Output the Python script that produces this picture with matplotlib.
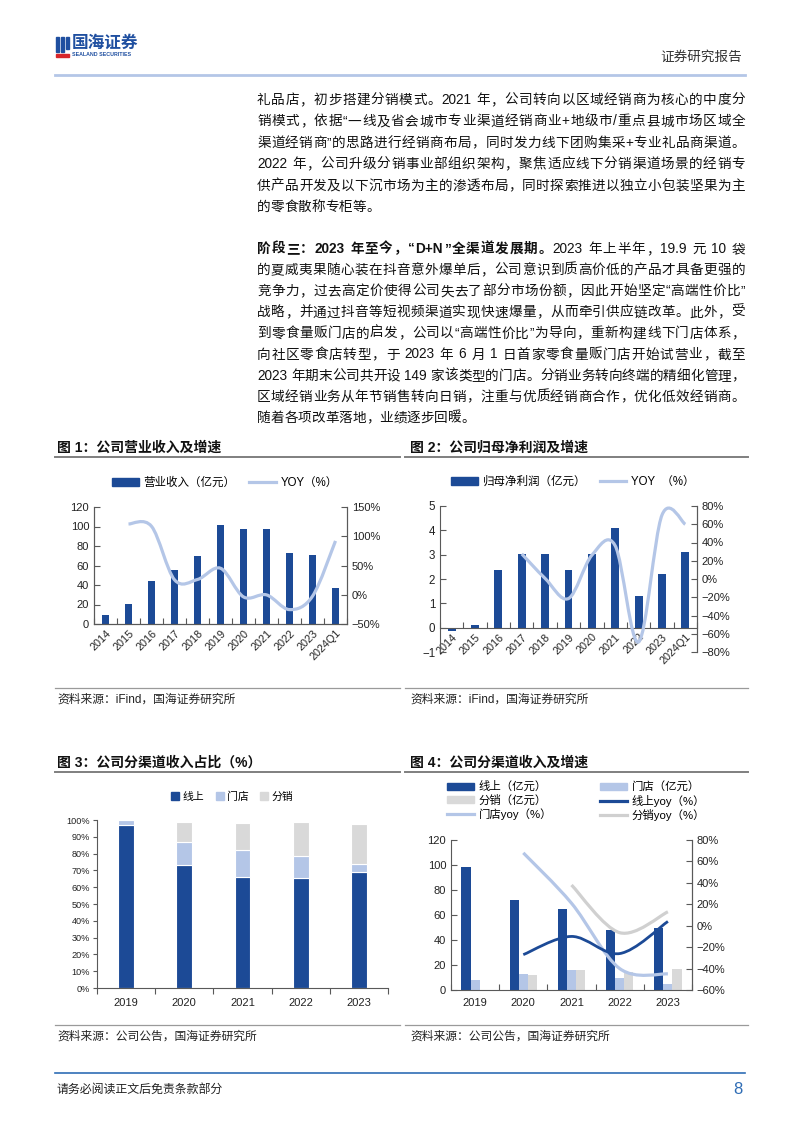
import re
import numpy as np
import matplotlib
matplotlib.use("Agg")
import matplotlib.pyplot as plt
from matplotlib.path import Path
from matplotlib.patches import PathPatch, Rectangle, Patch
from matplotlib.lines import Line2D

FONT = ['Liberation Sans', 'Noto Sans CJK SC']
plt.rcParams['font.family'] = FONT
plt.rcParams['axes.unicode_minus'] = True

W, H = 802, 1133

# ---- data ----
years1 = ['2014', '2015', '2016', '2017', '2018', '2019', '2020', '2021', '2022', '2023', '2024Q1']
revenue = [9.24, 20.43, 44.23, 55.54, 70.01, 101.73, 97.94, 97.70, 72.93, 71.15, 36.5]
rev_yoy = [121, 117, 25.6, 26.1, 45.3, -3.7, -0.2, -25.4, -2.5, 92]          # from 2015
profit = [-0.13, 0.09, 2.37, 3.02, 3.04, 2.39, 3.01, 4.11, 1.29, 2.19, 3.09]
profit_yoy = [27.5, 0.6, -21.4, 26.1, 36.4, -69, 70, 60]                       # from 2017

years2 = ['2019', '2020', '2021', '2022', '2023']
share_online = [96.8, 73.5, 66.0, 65.4, 69.3]
share_store = [3.0, 13.4, 16.2, 13.0, 4.8]
share_dist = [0.0, 12.2, 16.2, 20.3, 23.4]

rev_online = [98.6, 72.0, 64.5, 47.7, 49.3]
rev_store = [7.8, 13.1, 15.8, 9.5, 4.8]
rev_dist = [0.0, 12.0, 15.8, 14.8, 16.7]
online_yoy = [-27, -10, -26, 4]        # from 2020
store_yoy = [68, 21, -40, -45]         # from 2020
dist_yoy = [38, -6.5, 13]              # from 2021

DARK = '#1C4A96'
LIGHT = '#B4C6E7'
GREY = '#D9D9D9'
AX = '#595959'

fig = plt.figure(figsize=(W / 100, H / 100), dpi=100)
R = fig.canvas.get_renderer()


def fx(x):
    return x / W


def fy(y):
    return 1 - y / H


def box(x0, y0, x1, y1):
    return [x0 / W, 1 - y1 / H, (x1 - x0) / W, (y1 - y0) / H]


def hline(x0, x1, y, color, lw):
    fig.add_artist(Line2D([fx(x0), fx(x1)], [fy(y), fy(y)], transform=fig.transFigure,
                          color=color, lw=lw))


def txt(x, y, s, size, **kw):
    return fig.text(fx(x), fy(y), s, fontsize=size, va='center', family=FONT, **kw)


def put_line(x0, x1, y, parts, justify, size=9.8):
    items = []
    for s, bold in parts:
        for m in re.finditer(r'[A-Za-z0-9.+/%]+| |.', s):
            tok = m.group()
            if tok == ' ':
                items.append((None, size * 0.38))
                continue
            t = txt(x0, y, tok, size, fontweight='bold' if bold else 'normal', color='#111111')
            items.append((t, t.get_window_extent(R).width))
    total = sum(w for _, w in items)
    n = len(items)
    gap = (x1 - x0 - total) / (n - 1) if (justify and n > 1) else 0
    x = x0
    for t, w in items:
        if t is not None:
            t.set_x(fx(x))
        x += w + gap


def smooth(ax, xs, ys, **kw):
    xs = np.asarray(xs, float)
    ys = np.asarray(ys, float)
    n = len(xs)
    verts = [(xs[0], ys[0])]
    codes = [Path.MOVETO]
    for i in range(n - 1):
        p0 = np.array([xs[max(i - 1, 0)], ys[max(i - 1, 0)]])
        p1 = np.array([xs[i], ys[i]])
        p2 = np.array([xs[i + 1], ys[i + 1]])
        p3 = np.array([xs[min(i + 2, n - 1)], ys[min(i + 2, n - 1)]])
        c1 = p1 + (p2 - p0) / 6
        c2 = p2 - (p3 - p1) / 6
        verts += [tuple(c1), tuple(c2), tuple(p2)]
        codes += [Path.CURVE4] * 3
    ax.add_patch(PathPatch(Path(verts, codes), fill=False, capstyle='butt', **kw))


def pct(v):
    return ('\u2212' if v < 0 else '') + '%d%%' % abs(v)


def num(v):
    return ('\u2212' if v < 0 else '') + '%d' % abs(v)


# ---- header ----
fig.add_artist(Rectangle((fx(56), fy(52)), 3 / W, 15 / H, transform=fig.transFigure, color='#1F4FA0'))
fig.add_artist(Rectangle((fx(61), fy(52)), 3 / W, 15 / H, transform=fig.transFigure, color='#1F4FA0'))
fig.add_artist(Rectangle((fx(66), fy(49)), 3 / W, 12 / H, transform=fig.transFigure, color='#1F4FA0'))
fig.add_artist(Rectangle((fx(56), fy(57)), 13 / W, 3 / H, transform=fig.transFigure, color='#D7262B'))
txt(72, 43, '国海证券', 12, fontweight='bold', color='#1F4FA0')
txt(72, 55, 'SEALAND SECURITIES', 3.8, fontweight='bold', color='#1F4FA0')
txt(742, 57, '证券研究报告', 9.8, ha='right', color='#333333')
hline(55, 745, 75, '#B4C6E7', 2)

# ---- body text ----
X0, X1 = 257, 745
p1 = ['礼品店，初步搭建分销模式。2021 年，公司转向以区域经销商为核心的中度分',
      '销模式，依据“一线及省会城市专业渠道经销商业+地级市/重点县城市场区域全',
      '渠道经销商”的思路进行经销商布局，同时发力线下团购集采+专业礼品商渠道。',
      '2022 年，公司升级分销事业部组织架构，聚焦适应线下分销渠道场景的经销专',
      '供产品开发及以下沉市场为主的渗透布局，同时探索推进以独立小包装坚果为主',
      '的零食散称专柜等。']
for i, s in enumerate(p1):
    put_line(X0, X1, 100 + i * 21.4, [(s, False)], i < len(p1) - 1)

p2 = [[('阶段三：2023 年至今，“D+N”全渠道发展期。', True), ('2023 年上半年，19.9 元 10 袋', False)],
      [('的夏威夷果随心装在抖音意外爆单后，公司意识到质高价低的产品才具备更强的', False)],
      [('竞争力，过去高定价使得公司失去了部分市场份额，因此开始坚定“高端性价比”', False)],
      [('战略，并通过抖音等短视频渠道实现快速爆量，从而牵引供应链改革。此外，受', False)],
      [('到零食量贩门店的启发，公司以“高端性价比”为导向，重新构建线下门店体系，', False)],
      [('向社区零食店转型，于 2023 年 6 月 1 日首家零食量贩门店开始试营业，截至', False)],
      [('2023 年期末公司共开设 149 家该类型的门店。分销业务转向终端的精细化管理，', False)],
      [('区域经销业务从年节销售转向日销，注重与优质经销商合作，优化低效经销商。', False)],
      [('随着各项改革落地，业绩逐步回暖。', False)]]
for i, parts in enumerate(p2):
    put_line(X0, X1, 249 + i * 21.1, parts, i < len(p2) - 1)


def frame(ax, sides):
    for k, sp in ax.spines.items():
        sp.set_visible(k in sides)
        sp.set_color(AX)
        sp.set_linewidth(0.8)


def cat_ticks(ax, n, labels, size, rot, direction):
    ax.set_xlim(-0.5, n - 0.5)
    ax.set_xticks(range(n))
    ax.set_xticks(np.arange(n + 1) - 0.5, minor=True)
    ax.tick_params(axis='x', which='major', length=0, pad=3)
    ax.tick_params(axis='x', which='minor', length=4, direction=direction, color=AX, width=0.8)
    if rot:
        ax.set_xticklabels(labels, rotation=45, ha='right', va='top', rotation_mode='anchor',
                           fontsize=size, color='#222222')
    else:
        ax.set_xticklabels(labels, fontsize=size, color='#222222')


# ---- chart titles / rules / sources ----
txt(57, 448, '图 1：公司营业收入及增速', 10, fontweight='bold', color='#111111')
txt(410, 448, '图 2：公司归母净利润及增速', 10, fontweight='bold', color='#111111')
hline(55, 400, 457, '#7F7F7F', 1.4)
hline(405, 748, 457, '#7F7F7F', 1.4)
hline(55, 400, 688, '#9A9A9A', 0.9)
hline(405, 748, 688, '#9A9A9A', 0.9)
txt(57, 700, '资料来源：iFind，国海证券研究所', 8.5, color='#222222')
txt(410, 700, '资料来源：iFind，国海证券研究所', 8.5, color='#222222')

txt(57, 763, '图 3：公司分渠道收入占比（%）', 10, fontweight='bold', color='#111111')
txt(410, 763, '图 4：公司分渠道收入及增速', 10, fontweight='bold', color='#111111')
hline(55, 400, 772, '#7F7F7F', 1.4)
hline(405, 748, 772, '#7F7F7F', 1.4)
hline(55, 400, 1025, '#9A9A9A', 0.9)
hline(405, 748, 1025, '#9A9A9A', 0.9)
txt(57, 1037, '资料来源：公司公告，国海证券研究所', 8.5, color='#222222')
txt(410, 1037, '资料来源：公司公告，国海证券研究所', 8.5, color='#222222')

# ---- footer ----
hline(55, 745, 1073, '#2F6DB5', 1.2)
txt(57, 1090, '请务必阅读正文后免责条款部分', 8.6, color='#222222')
txt(742, 1090, '8', 12, ha='right', color='#2F6DB5')

# ---- chart 1 ----
n1 = len(years1)
ax = fig.add_axes(box(94, 507, 347, 624))
ax.bar(range(n1), revenue, width=0.34, color=DARK, zorder=2)
ax.set_ylim(0, 120)
ax.set_yticks(range(0, 121, 20))
ax.set_yticklabels([num(v) for v in range(0, 121, 20)], fontsize=8, color='#222222')
ax.tick_params(axis='y', direction='in', length=4, color=AX, width=0.8)
cat_ticks(ax, n1, years1, 7.8, True, 'in')
frame(ax, ['left', 'bottom', 'right'])
ax2 = ax.twinx()
ax2.set_ylim(-50, 150)
ax2.set_yticks(range(-50, 151, 50))
ax2.set_yticklabels([pct(v) for v in range(-50, 151, 50)], fontsize=8, color='#222222')
ax2.tick_params(axis='y', direction='in', length=4, color=AX, width=0.8)
frame(ax2, ['left', 'bottom', 'right'])
smooth(ax2, range(1, n1), rev_yoy, edgecolor=LIGHT, lw=2.3)
ax.set_xlim(-0.5, n1 - 0.5)
ax2.set_xlim(-0.5, n1 - 0.5)
h1 = [Patch(color=DARK), Line2D([], [], color=LIGHT, lw=2.3)]
fig.legend(h1, ['营业收入（亿元）', 'YOY（%）'], loc='center', bbox_to_anchor=(fx(225), fy(483)),
           ncol=2, frameon=False, fontsize=8.3, handlelength=2.3, handleheight=0.6,
           columnspacing=1.2, handletextpad=0.4)

# ---- chart 2 ----
ax = fig.add_axes(box(440, 506, 697, 652))
ax.spines['bottom'].set_position(('data', 0))
ax.bar(range(n1), profit, width=0.34, color=DARK, zorder=2)
ax.set_ylim(-1, 5)
ax.set_yticks(range(-1, 6))
ax.set_yticklabels([num(v) for v in range(-1, 6)], fontsize=8.3, color='#222222')
ax.tick_params(axis='y', direction='in', length=4, color=AX, width=0.8)
cat_ticks(ax, n1, years1, 7.8, True, 'in')
frame(ax, ['left', 'bottom', 'right'])
ax2 = ax.twinx()
ax2.set_ylim(-80, 80)
ax2.set_yticks(range(-80, 81, 20))
ax2.set_yticklabels([pct(v) for v in range(-80, 81, 20)], fontsize=8, color='#222222')
ax2.tick_params(axis='y', direction='in', length=4, color=AX, width=0.8)
frame(ax2, ['right'])
smooth(ax2, range(3, n1), profit_yoy, edgecolor=LIGHT, lw=2.3)
ax.set_xlim(-0.5, n1 - 0.5)
ax2.set_xlim(-0.5, n1 - 0.5)
fig.legend(h1, ['归母净利润（亿元）', 'YOY  （%）'], loc='center', bbox_to_anchor=(fx(573), fy(482)),
           ncol=2, frameon=False, fontsize=8.3, handlelength=2.3, handleheight=0.6,
           columnspacing=1.2, handletextpad=0.4)

# ---- chart 3 ----
n2 = len(years2)
ax = fig.add_axes(box(97, 820, 388, 988))
x = np.arange(n2)
b1 = np.array(share_online)
b2 = b1 + np.array(share_store)
ax.bar(x, share_online, width=0.27, color=DARK, edgecolor='white', lw=0.8, zorder=2)
ax.bar(x, share_store, bottom=b1, width=0.27, color=LIGHT, edgecolor='white', lw=0.8, zorder=2)
ax.bar(x, share_dist, bottom=b2, width=0.27, color=GREY, edgecolor='white', lw=0.8, zorder=2)
ax.set_ylim(0, 100)
ax.set_yticks(range(0, 101, 10))
ax.set_yticklabels(['%d%%' % v for v in range(0, 101, 10)], fontsize=6.6, color='#222222')
ax.tick_params(axis='y', direction='out', length=3, color=AX, width=0.8, pad=2)
cat_ticks(ax, n2, years2, 8, False, 'out')
ax.tick_params(axis='x', which='major', pad=7)
frame(ax, ['left', 'bottom'])
h3 = [Line2D([], [], marker='s', ls='', color=c, markersize=6) for c in (DARK, LIGHT, GREY)]
fig.legend(h3, ['线上', '门店', '分销'], loc='center', bbox_to_anchor=(fx(232), fy(797)),
           ncol=3, frameon=False, fontsize=7.8, handlelength=0.8, columnspacing=1.0,
           handletextpad=0.3)

# ---- chart 4 ----
ax = fig.add_axes(box(451, 840, 692, 990))
bw = 0.19
ax.bar(x - bw, rev_online, width=bw, color=DARK, zorder=2)
ax.bar(x, rev_store, width=bw, color=LIGHT, zorder=2)
ax.bar(x + bw, rev_dist, width=bw, color=GREY, zorder=2)
ax.set_ylim(0, 120)
ax.set_yticks(range(0, 121, 20))
ax.set_yticklabels([num(v) for v in range(0, 121, 20)], fontsize=8, color='#222222')
ax.tick_params(axis='y', direction='in', length=4, color=AX, width=0.8)
cat_ticks(ax, n2, years2, 8, False, 'in')
ax.tick_params(axis='x', which='major', pad=6)
frame(ax, ['left', 'bottom', 'right'])
ax2 = ax.twinx()
ax2.set_ylim(-60, 80)
ax2.set_yticks(range(-60, 81, 20))
ax2.set_yticklabels([pct(v) for v in range(-60, 81, 20)], fontsize=8, color='#222222')
ax2.tick_params(axis='y', direction='in', length=4, color=AX, width=0.8)
frame(ax2, ['right'])
smooth(ax2, range(1, n2), store_yoy, edgecolor=LIGHT, lw=2.3)
smooth(ax2, range(2, n2), dist_yoy, edgecolor='#D0D0D0', lw=2.3)
smooth(ax2, range(1, n2), online_yoy, edgecolor=DARK, lw=2.0)
ax.set_xlim(-0.5, n2 - 0.5)
ax2.set_xlim(-0.5, n2 - 0.5)
h4 = [Patch(color=DARK), Patch(color=GREY), Line2D([], [], color=LIGHT, lw=2.3),
      Patch(color=LIGHT), Line2D([], [], color=DARK, lw=2.3), Line2D([], [], color='#D0D0D0', lw=2.3)]
l4 = ['线上（亿元）', '分销（亿元）', '门店yoy（%）', '门店（亿元）', '线上yoy（%）', '分销yoy（%）']
fig.legend(h4, l4, loc='center', bbox_to_anchor=(fx(576), fy(801)), ncol=2, frameon=False,
           fontsize=8.2, handlelength=2.4, handleheight=0.6, columnspacing=4.2,
           handletextpad=0.4, labelspacing=0.2)

fig.savefig('out.png', dpi=100)
